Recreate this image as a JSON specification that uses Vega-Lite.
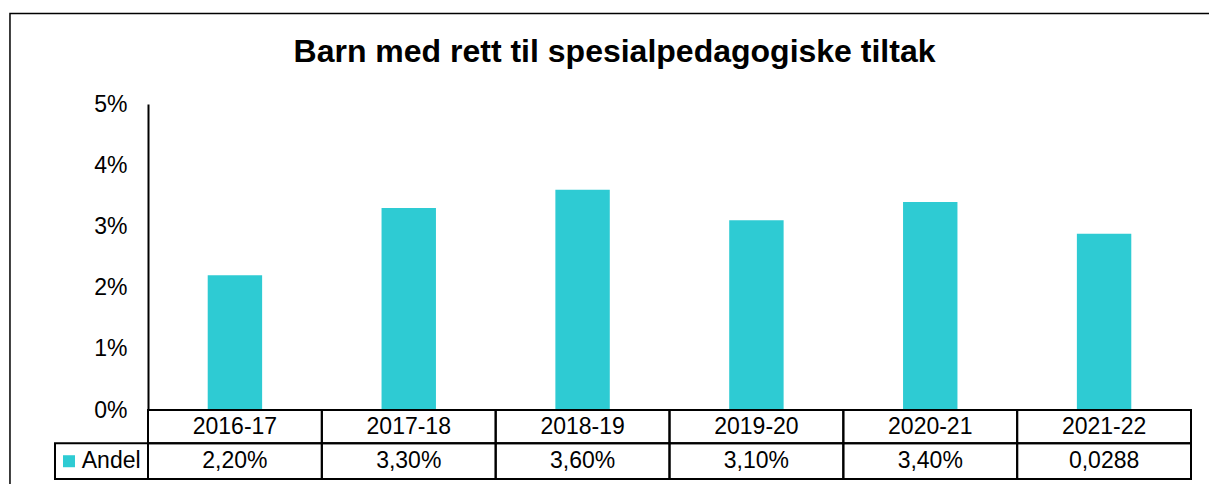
{
  "$schema": "https://vega.github.io/schema/vega-lite/v6.json",
  "width": 1043,
  "height": 306,
  "autosize": {"type": "none"},
  "padding": {"left": 148, "top": 104, "right": 18, "bottom": 74},
  "background": "white",
  "title": {
    "text": "Barn med rett til spesialpedagogiske tiltak",
    "font": "Liberation Sans",
    "fontSize": 32,
    "fontWeight": "bold",
    "color": "black",
    "anchor": "middle",
    "frame": "group",
    "baseline": "alphabetic",
    "dx": -55,
    "offset": -81
  },
  "config": {
    "view": {"stroke": null},
    "text": {"font": "Liberation Sans", "fontSize": 23, "color": "black"}
  },
  "data": {
    "values": [
      {"year": "2016-17", "value": 0.022, "label": "2,20%"},
      {"year": "2017-18", "value": 0.033, "label": "3,30%"},
      {"year": "2018-19", "value": 0.036, "label": "3,60%"},
      {"year": "2019-20", "value": 0.031, "label": "3,10%"},
      {"year": "2020-21", "value": 0.034, "label": "3,40%"},
      {"year": "2021-22", "value": 0.0288, "label": "0,0288"}
    ]
  },
  "layer": [
    {
      "encoding": {
        "x": {
          "field": "year",
          "type": "nominal",
          "sort": null,
          "scale": {"paddingInner": 0, "paddingOuter": 0},
          "axis": null
        }
      },
      "layer": [
        {
          "mark": {"type": "bar", "color": "#2ECBD3", "width": {"band": 0.313}},
          "encoding": {
            "y": {
              "field": "value",
              "type": "quantitative",
              "scale": {"domain": [0, 0.05], "nice": false, "zero": true},
              "axis": {
                "title": null,
                "values": [0, 0.01, 0.02, 0.03, 0.04, 0.05],
                "format": ".0%",
                "labelFont": "Liberation Sans",
                "labelFontSize": 23,
                "labelColor": "black",
                "labelPadding": 21,
                "ticks": false,
                "grid": false,
                "domainColor": "black",
                "domainWidth": 2
              }
            }
          }
        },
        {
          "mark": {"type": "rect", "filled": false, "stroke": "black", "strokeWidth": 2},
          "encoding": {
            "y": {"datum": 0, "type": "quantitative"},
            "y2": {"datum": -0.00544}
          }
        },
        {
          "mark": {"type": "rect", "filled": false, "stroke": "black", "strokeWidth": 2},
          "encoding": {
            "y": {"datum": -0.00544, "type": "quantitative"},
            "y2": {"datum": -0.01127}
          }
        },
        {
          "mark": {"type": "text", "baseline": "middle", "align": "center"},
          "encoding": {
            "y": {"datum": -0.00273, "type": "quantitative"},
            "text": {"field": "year"}
          }
        },
        {
          "mark": {"type": "text", "baseline": "middle", "align": "center"},
          "encoding": {
            "y": {"datum": -0.00837, "type": "quantitative"},
            "text": {"field": "label"}
          }
        }
      ]
    },
    {
      "data": {"values": [{"series": "Andel"}]},
      "layer": [
        {
          "mark": {"type": "rect", "filled": false, "stroke": "black", "strokeWidth": 1.5},
          "encoding": {
            "x": {"datum": -0.794, "type": "quantitative", "scale": {"domain": [0, 6], "nice": false, "zero": false}, "axis": null},
            "x2": {"datum": 6.5},
            "y": {"datum": 0.0648, "type": "quantitative"},
            "y2": {"datum": -0.02}
          }
        },
        {
          "mark": {"type": "rect", "filled": false, "stroke": "black", "strokeWidth": 2},
          "encoding": {
            "x": {"datum": -0.535, "type": "quantitative", "scale": {"domain": [0, 6], "nice": false, "zero": false}, "axis": null},
            "x2": {"datum": 0},
            "y": {"datum": -0.00544, "type": "quantitative"},
            "y2": {"datum": -0.01127}
          }
        },
        {
          "mark": {"type": "square", "filled": true, "color": "#2ECBD3", "size": 144, "opacity": 1},
          "encoding": {
            "x": {"datum": -0.4545, "type": "quantitative", "scale": {"domain": [0, 6], "nice": false, "zero": false}, "axis": null},
            "y": {"datum": -0.00837, "type": "quantitative"}
          }
        },
        {
          "mark": {"type": "text", "baseline": "middle", "align": "left"},
          "encoding": {
            "x": {"datum": -0.381, "type": "quantitative", "scale": {"domain": [0, 6], "nice": false, "zero": false}, "axis": null},
            "y": {"datum": -0.00837, "type": "quantitative"},
            "text": {"field": "series"}
          }
        }
      ]
    }
  ],
  "resolve": {"scale": {"x": "independent"}}
}
